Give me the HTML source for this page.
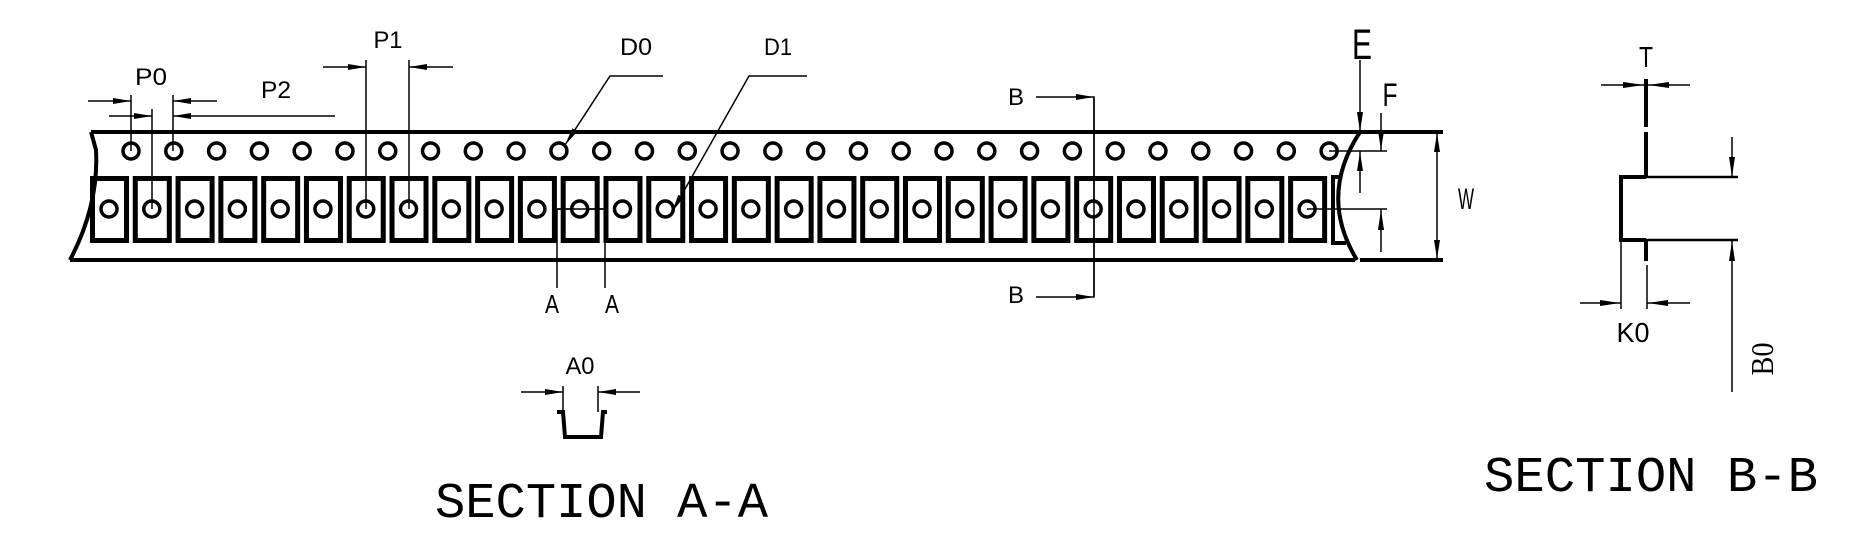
<!DOCTYPE html>
<html><head><meta charset="utf-8"><style>
html,body{margin:0;padding:0;background:#fff;}
svg{display:block;}
text{font-family:"Liberation Sans",sans-serif;fill:#000;}
.m{font-family:"Liberation Mono",monospace;}
</style></head><body>
<svg width="1856" height="546" viewBox="0 0 1856 546" xmlns="http://www.w3.org/2000/svg">
<g fill="none" stroke="#000" stroke-width="4">
<path d="M91,132 L1443,132"/>
<path d="M70,260 L1355,260 M1360,260 L1443,260"/>
<path d="M91,132 L96,150 Q99,205 70,260"/>
<path d="M1360,132 Q1318,196 1357,260"/>
<path d="M1340,177 L1333,177 L1333,243 L1346,243"/>
</g>
<g fill="none" stroke="#000" stroke-width="5">
<rect x="92.5" y="178.5" width="34" height="62"/><rect x="135.29" y="178.5" width="34" height="62"/><rect x="178.08" y="178.5" width="34" height="62"/><rect x="220.87" y="178.5" width="34" height="62"/><rect x="263.66" y="178.5" width="34" height="62"/><rect x="306.45" y="178.5" width="34" height="62"/><rect x="349.24" y="178.5" width="34" height="62"/><rect x="392.03" y="178.5" width="34" height="62"/><rect x="434.82" y="178.5" width="34" height="62"/><rect x="477.61" y="178.5" width="34" height="62"/><rect x="520.4" y="178.5" width="34" height="62"/><rect x="563.19" y="178.5" width="34" height="62"/><rect x="605.98" y="178.5" width="34" height="62"/><rect x="648.77" y="178.5" width="34" height="62"/><rect x="691.56" y="178.5" width="34" height="62"/><rect x="734.35" y="178.5" width="34" height="62"/><rect x="777.14" y="178.5" width="34" height="62"/><rect x="819.93" y="178.5" width="34" height="62"/><rect x="862.72" y="178.5" width="34" height="62"/><rect x="905.51" y="178.5" width="34" height="62"/><rect x="948.3" y="178.5" width="34" height="62"/><rect x="991.09" y="178.5" width="34" height="62"/><rect x="1033.88" y="178.5" width="34" height="62"/><rect x="1076.67" y="178.5" width="34" height="62"/><rect x="1119.46" y="178.5" width="34" height="62"/><rect x="1162.25" y="178.5" width="34" height="62"/><rect x="1205.04" y="178.5" width="34" height="62"/><rect x="1247.83" y="178.5" width="34" height="62"/><rect x="1290.62" y="178.5" width="34" height="62"/>
</g>
<g fill="none" stroke="#000" stroke-width="1.5">
<path d="M131,95 V143 M173,95 V143 M152,109 V201 M366,60 V201 M409,60 V201"/>
<path d="M88,101 H131 M173,101 H217 M109,116 H152 M173,116 H335 M323,67 H366 M409,67 H453"/>
<path d="M663,76 H610 L565,145 M807,76 H749 L672,212"/>
<path d="M557,209 H605 M557,209 V288 M605,209 V288"/>
<path d="M1036,97 H1094 V297 H1036"/>
<path d="M1360,60 V132 M1381,113 V151 M1360,193 V151 M1381,252 V209 M1437,132 V260 M1337,151 H1387 M1315,209 H1387"/>
<path d="M521,392 H563 M598,392 H640 M563,386 V412 M598,386 V412"/>
<path d="M1601,85 H1690 M1580,303 H1621 M1647,303 H1690 M1621,242 V309 M1647,265 V309 M1732,137 V177 M1732,392 V241"/>
</g>
<g fill="#fff" stroke="#000" stroke-width="3.5">
<circle cx="131" cy="151" r="8"/><circle cx="173.79" cy="151" r="8"/><circle cx="216.58" cy="151" r="8"/><circle cx="259.37" cy="151" r="8"/><circle cx="302.16" cy="151" r="8"/><circle cx="344.95" cy="151" r="8"/><circle cx="387.74" cy="151" r="8"/><circle cx="430.53" cy="151" r="8"/><circle cx="473.32" cy="151" r="8"/><circle cx="516.11" cy="151" r="8"/><circle cx="558.9" cy="151" r="8"/><circle cx="601.69" cy="151" r="8"/><circle cx="644.48" cy="151" r="8"/><circle cx="687.27" cy="151" r="8"/><circle cx="730.06" cy="151" r="8"/><circle cx="772.85" cy="151" r="8"/><circle cx="815.64" cy="151" r="8"/><circle cx="858.43" cy="151" r="8"/><circle cx="901.22" cy="151" r="8"/><circle cx="944.01" cy="151" r="8"/><circle cx="986.8" cy="151" r="8"/><circle cx="1029.59" cy="151" r="8"/><circle cx="1072.38" cy="151" r="8"/><circle cx="1115.17" cy="151" r="8"/><circle cx="1157.96" cy="151" r="8"/><circle cx="1200.75" cy="151" r="8"/><circle cx="1243.54" cy="151" r="8"/><circle cx="1286.33" cy="151" r="8"/><circle cx="1329.12" cy="151" r="8"/>
<circle cx="109" cy="209" r="8"/><circle cx="151.79" cy="209" r="8"/><circle cx="194.58" cy="209" r="8"/><circle cx="237.37" cy="209" r="8"/><circle cx="280.16" cy="209" r="8"/><circle cx="322.95" cy="209" r="8"/><circle cx="365.74" cy="209" r="8"/><circle cx="408.53" cy="209" r="8"/><circle cx="451.32" cy="209" r="8"/><circle cx="494.11" cy="209" r="8"/><circle cx="536.9" cy="209" r="8"/><circle cx="579.69" cy="209" r="8"/><circle cx="622.48" cy="209" r="8"/><circle cx="665.27" cy="209" r="8"/><circle cx="708.06" cy="209" r="8"/><circle cx="750.85" cy="209" r="8"/><circle cx="793.64" cy="209" r="8"/><circle cx="836.43" cy="209" r="8"/><circle cx="879.22" cy="209" r="8"/><circle cx="922.01" cy="209" r="8"/><circle cx="964.8" cy="209" r="8"/><circle cx="1007.59" cy="209" r="8"/><circle cx="1050.38" cy="209" r="8"/><circle cx="1093.17" cy="209" r="8"/><circle cx="1135.96" cy="209" r="8"/><circle cx="1178.75" cy="209" r="8"/><circle cx="1221.54" cy="209" r="8"/><circle cx="1264.33" cy="209" r="8"/><circle cx="1307.12" cy="209" r="8"/>
</g>
<g fill="none" stroke="#000" stroke-width="1.5">
<path d="M131,143 V151 M173,143 V151 M152,201 V209 M366,201 V209 M409,201 V209 M557,209 H605 M1094,97 V297 M1337,151 H1329 M1315,209 H1307"/>
</g>
<g fill="#000">
<polygon points="131,101 113,98 113,104"/><polygon points="173,101 191,98 191,104"/>
<polygon points="152,116 134,113 134,119"/><polygon points="173,116 191,113 191,119"/>
<polygon points="366,67 348,64 348,70"/><polygon points="409,67 427,64 427,70"/>
<polygon points="565,145 577.3,131.6 572.3,128.4"/>
<polygon points="672,212 683.5,197.8 678.3,194.8"/>
<polygon points="1094,97 1076,94 1076,100"/><polygon points="1094,297 1076,294 1076,300"/>
<polygon points="1360,132 1357,112 1363,112"/>
<polygon points="1381,150 1378,131 1384,131"/>
<polygon points="1360,152 1357,171 1363,171"/>
<polygon points="1381,210 1378,230 1384,230"/>
<polygon points="1437,133 1434,152 1440,152"/><polygon points="1437,259 1434,240 1440,240"/>
<polygon points="563,392 545,389 545,395"/><polygon points="598,392 616,389 616,395"/>
<polygon points="1644,85 1623,82 1623,88"/><polygon points="1648,85 1669,82 1669,88"/>
<polygon points="1620,303 1600,300 1600,306"/><polygon points="1648,303 1668,300 1668,306"/>
<polygon points="1732,177 1729,157 1735,157"/><polygon points="1732,241 1729,261 1735,261"/>
</g>
<g fill="none" stroke="#000" stroke-width="4">
<path d="M557,412 H563 L565,437 H601 L603,412 H607"/>
</g>
<g fill="none" stroke="#000">
<path stroke-width="4" d="M1646,79 V127 M1646,132 V177 M1646,240 V261 M1621,175 V242 M1619,177 H1646 M1619,240 H1646"/>
<path stroke-width="2.5" d="M1646,177 H1738 M1646,240 H1738"/>
</g>
<text x="151" y="85" font-size="24" text-anchor="middle" textLength="32" lengthAdjust="spacingAndGlyphs">P0</text>
<text x="276" y="98" font-size="24" text-anchor="middle" textLength="30" lengthAdjust="spacingAndGlyphs">P2</text>
<text x="388" y="48" font-size="24" text-anchor="middle" textLength="29" lengthAdjust="spacingAndGlyphs">P1</text>
<text x="636" y="55" font-size="24" text-anchor="middle" textLength="32" lengthAdjust="spacingAndGlyphs">D0</text>
<text x="778" y="55" font-size="24" text-anchor="middle" textLength="28" lengthAdjust="spacingAndGlyphs">D1</text>
<text x="552" y="313" font-size="26" text-anchor="middle" textLength="14" lengthAdjust="spacingAndGlyphs">A</text>
<text x="612" y="313" font-size="26" text-anchor="middle" textLength="14" lengthAdjust="spacingAndGlyphs">A</text>
<text x="1016" y="105" font-size="24" text-anchor="middle">B</text>
<text x="1016" y="303" font-size="24" text-anchor="middle">B</text>
<text x="1362" y="59" font-size="43" text-anchor="middle" textLength="20" lengthAdjust="spacingAndGlyphs">E</text>
<text x="1390" y="106" font-size="32" text-anchor="middle" textLength="15" lengthAdjust="spacingAndGlyphs">F</text>
<text x="1466" y="209" font-size="30" text-anchor="middle" textLength="16" lengthAdjust="spacingAndGlyphs">W</text>
<text x="580" y="374" font-size="24" text-anchor="middle" textLength="29" lengthAdjust="spacingAndGlyphs">A0</text>
<text x="1646" y="67" font-size="29" text-anchor="middle" textLength="14" lengthAdjust="spacingAndGlyphs">T</text>
<text x="1633" y="342" font-size="28" text-anchor="middle" textLength="33" lengthAdjust="spacingAndGlyphs">K0</text>
<text transform="translate(1773,359) rotate(-90)" font-size="32" text-anchor="middle" style="font-family:'Liberation Serif',serif" textLength="33" lengthAdjust="spacingAndGlyphs">B0</text>
<text class="m" x="435" y="517" font-size="50" textLength="333" lengthAdjust="spacingAndGlyphs">SECTION A-A</text>
<text class="m" x="1484" y="491" font-size="50" textLength="334" lengthAdjust="spacingAndGlyphs">SECTION B-B</text>
</svg>
</body></html>
